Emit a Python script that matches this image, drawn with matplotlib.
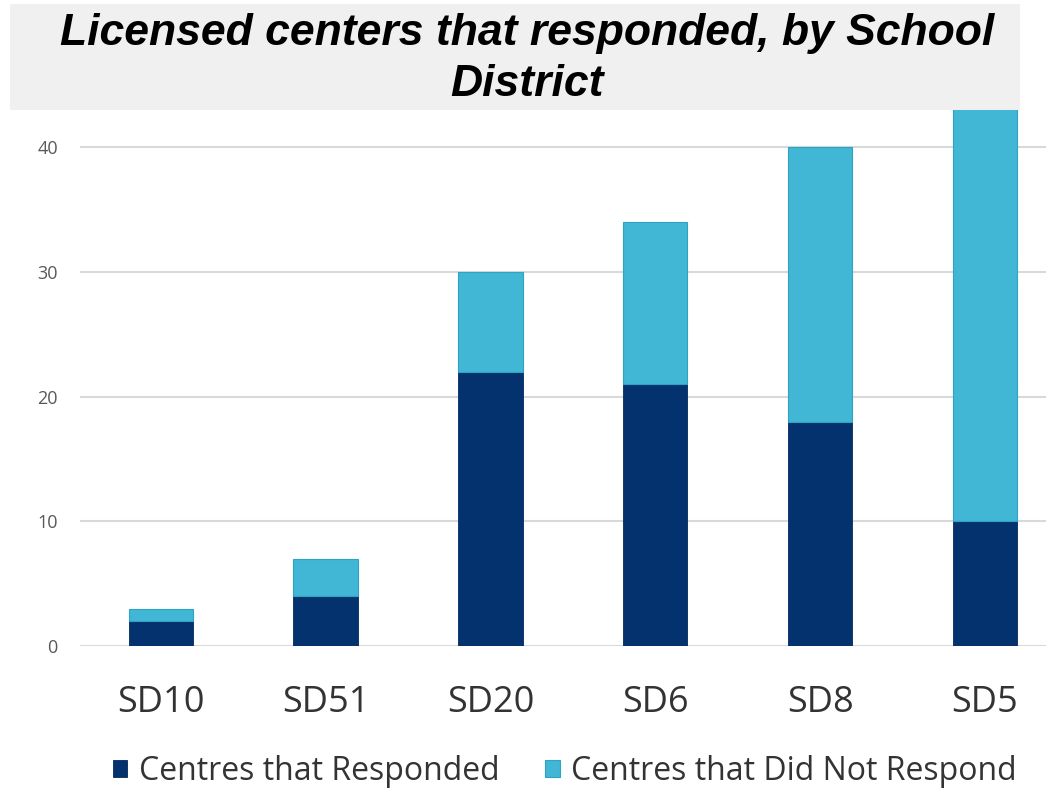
import numpy as np
import matplotlib.pyplot as plt
from matplotlib.patches import Rectangle

districts = ["SD10", "SD51", "SD20", "SD6", "SD8", "SD5"]
responded = [2, 4, 22, 21, 18, 10]
not_responded = [1, 3, 8, 13, 22, 38]

dark_blue = "#03326e"
light_blue = "#41b7d5"

fig = plt.figure(figsize=(10.46, 7.89), dpi=100)
ax = fig.add_axes([80 / 1046, 143 / 789, 966 / 1046, 536 / 789])

x = np.arange(len(districts))
ax.bar(x, responded, width=0.39, color=dark_blue, edgecolor="#022a5c", linewidth=0.6, zorder=3,
       label="Centres that Responded")
ax.bar(x, not_responded, width=0.39, bottom=responded, color=light_blue, edgecolor="#2fa3c2",
       linewidth=0.8, zorder=3, label="Centres that Did Not Respond")

ax.set_ylim(0, 43)
ax.set_xlim(-0.49, 5.37)
ax.set_yticks([0, 10, 20, 30, 40])
ax.yaxis.grid(True, color="#d9d9d9", linewidth=1.5, zorder=0)
for s in ax.spines.values():
    s.set_visible(False)
ax.tick_params(axis="y", length=0, pad=16, labelsize=13, labelcolor="#595959")
ax.tick_params(axis="x", length=0, pad=28, labelsize=26, labelcolor="#333333")
ax.set_xticks(x)
ax.set_xticklabels(districts, family="Open Sans")
for lbl in ax.get_yticklabels():
    lbl.set_family("Open Sans")

leg = fig.legend(loc="center", bbox_to_anchor=(0.540, 18 / 789), ncol=2, frameon=False,
                 prop={"family": "Open Sans", "size": 23}, handlelength=0.45, handleheight=0.45,
                 handletextpad=0.35, columnspacing=1.45)
for t in leg.get_texts():
    t.set_color("#333333")

# grey title banner across the top
fig.patches.append(Rectangle((10 / 1046, 1 - 110 / 789), 1010 / 1046, 106 / 789,
                             transform=fig.transFigure, facecolor="#f0f0f0", edgecolor="none", zorder=5))
fig.text(527 / 1046, 1 - 34 / 789, "Licensed centers that responded, by School", ha="center", va="center",
         fontsize=32, fontweight="bold", fontstyle="italic", family="Liberation Sans", zorder=6)
fig.text(527 / 1046, 1 - 85 / 789, "District", ha="center", va="center",
         fontsize=32, fontweight="bold", fontstyle="italic", family="Liberation Sans", zorder=6)

fig.savefig("out.png", dpi=100)
